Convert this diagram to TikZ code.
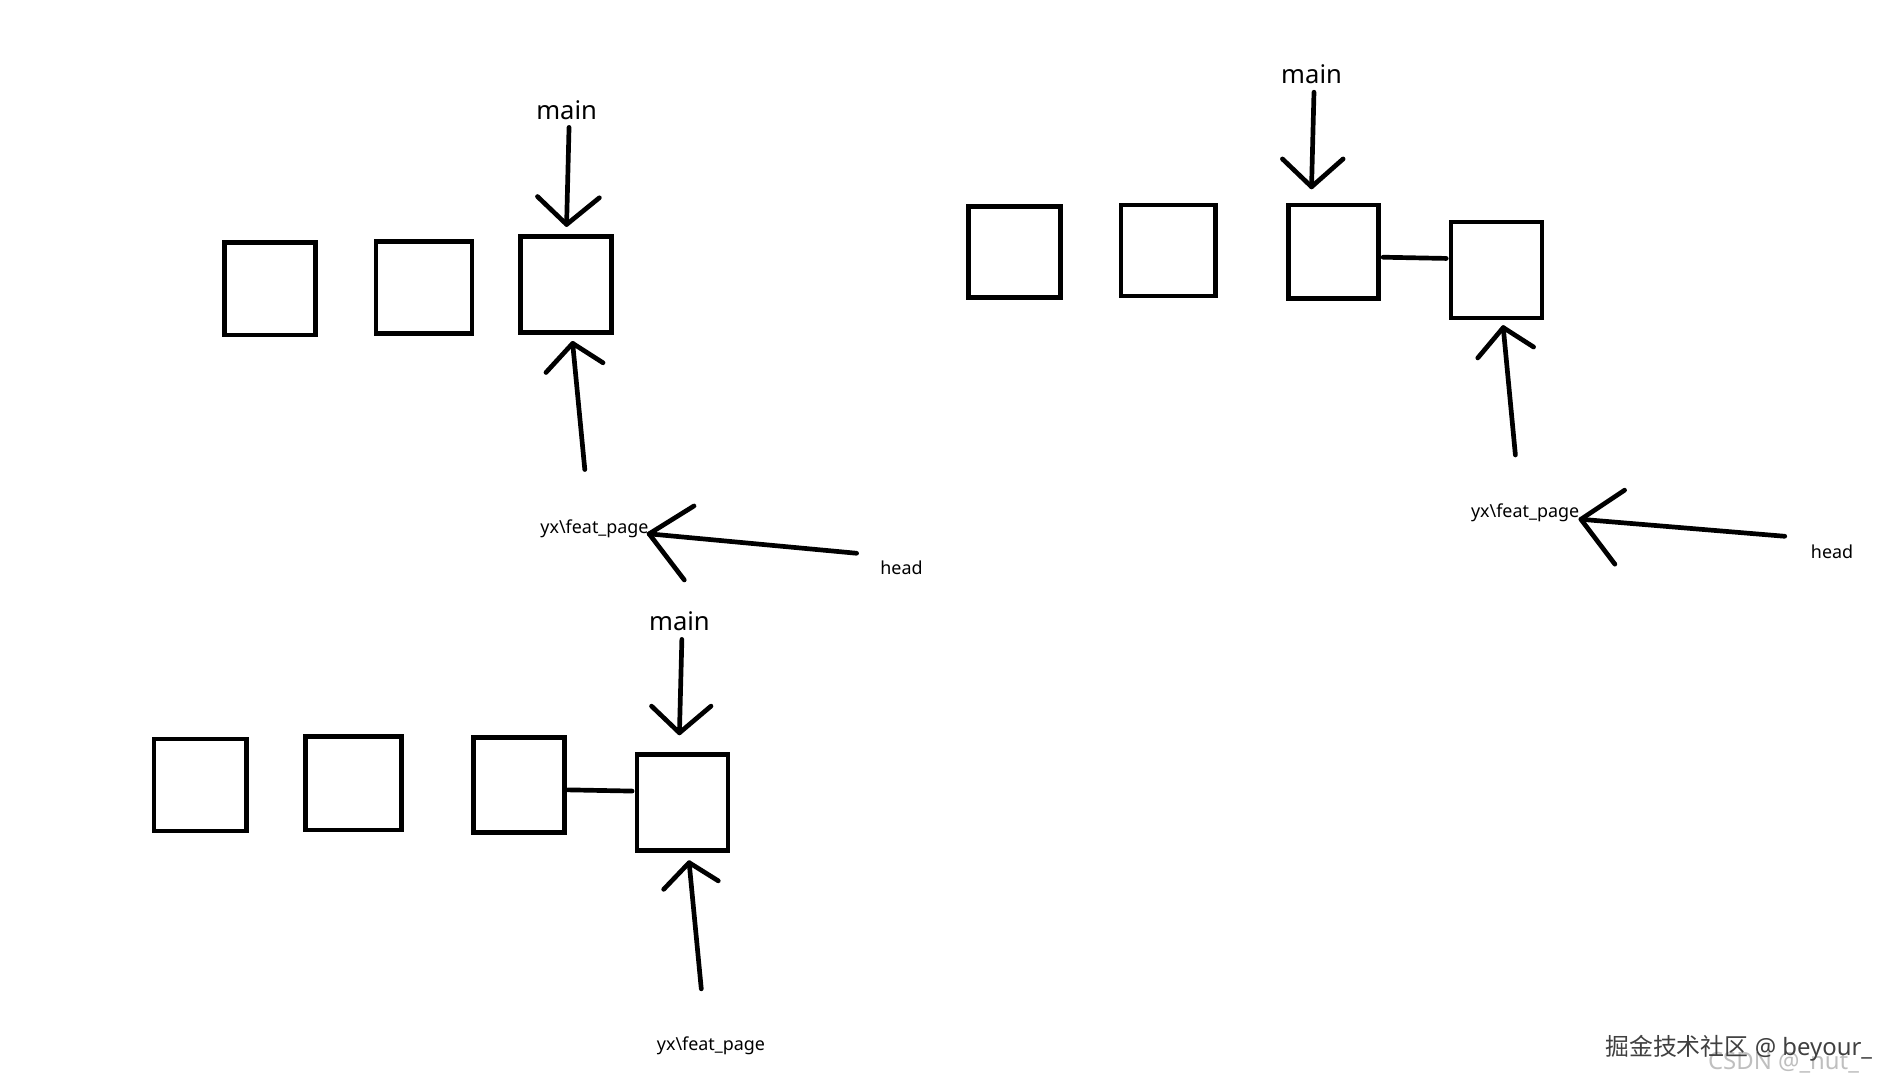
\documentclass[tikz,border=0pt]{standalone}
\usepackage{fontspec}
\setmainfont{Noto Sans}
\newfontfamily\cjk{Noto Sans CJK SC}
\begin{document}
\begin{tikzpicture}[x=0.05cm,y=-0.05cm,
  ln/.style={line width=5.5pt,line cap=round,line join=round},
  bx/.style={draw,line width=5.5pt,inner sep=0pt},
  big/.style={font=\fontsize{30}{34}\selectfont},
  sm/.style={font=\fontsize{21}{24}\selectfont}]
\useasboundingbox (0,0) rectangle (1566,900);
% top-left
\draw[bx] (185,200) rectangle (260,276);
\draw[bx] (310,199) rectangle (389,275);
\draw[bx] (429,195) rectangle (504,274);
\node[big] (m1) at (467,91) {main};
\draw[ln] (469,105)--(467,185); \draw[ln] (443,162)--(467,185)--(494,163);
\draw[ln] (482,387)--(472,283); \draw[ln] (450,307)--(472,283)--(497,299);
\node[sm] (y1) at (490,436) {yx\textbackslash feat\_page};
\draw[ln] (706,456)--(535,440); \draw[ln] (572,417)--(535,440)--(564,478);
\node[sm] (h1) at (743,468) {head};
% top-right
\draw[bx] (798,170) rectangle (874,245);
\draw[bx] (924,169) rectangle (1002,244);
\draw[bx] (1062,169) rectangle (1136,246);
\draw[bx] (1196,183) rectangle (1271,262);
\draw[ln] (1140,212)--(1192,213);
\node[big] (m2) at (1081,61) {main};
\draw[ln] (1083,76)--(1081,154); \draw[ln] (1057,131)--(1081,154)--(1107,131);
\draw[ln] (1249,375)--(1239,270); \draw[ln] (1218,295)--(1239,270)--(1264,286);
\node[sm] (y2) at (1257,423) {yx\textbackslash feat\_page};
\draw[ln] (1471,442)--(1303,428); \draw[ln] (1339,404)--(1303,428)--(1331,465);
\node[sm] (h2) at (1510,455) {head};
% bottom
\draw[bx] (127,609) rectangle (203,685);
\draw[bx] (252,607) rectangle (331,684);
\draw[bx] (390,608) rectangle (465,686);
\draw[bx] (525,622) rectangle (600,701);
\draw[ln] (468,651)--(521,652);
\node[big] (m3) at (560,512) {main};
\draw[ln] (562,527)--(560,604); \draw[ln] (537,582)--(560,604)--(586,582);
\draw[ln] (578,815)--(568,711); \draw[ln] (547,733)--(568,711)--(592,726);
\node[sm] (y3) at (586,862) {yx\textbackslash feat\_page};
% watermarks
\node[font=\fontsize{28}{30}\selectfont,text=black!25] (w2) at (1470,876) {CSDN @\_nut\_};
\node[font=\fontsize{28}{30}\selectfont,text=black!75] (w1) at (1433,864) {{\cjk 掘金技术社区} @ beyour\_};
\end{tikzpicture}
\end{document}
